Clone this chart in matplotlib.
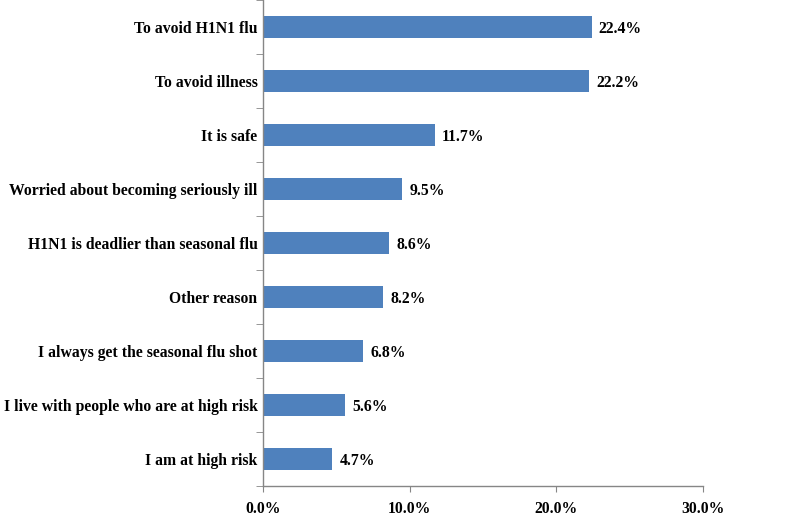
import matplotlib
matplotlib.use("Agg")
import matplotlib.pyplot as plt
import numpy as np
from matplotlib.ticker import FixedLocator, FuncFormatter

categories = [
    "To avoid H1N1 flu",
    "To avoid illness",
    "It is safe",
    "Worried about becoming seriously ill",
    "H1N1 is deadlier than seasonal flu",
    "Other reason",
    "I always get the seasonal flu shot",
    "I live with people who are at high risk",
    "I am at high risk",
]
values = [22.4, 22.2, 11.7, 9.5, 8.6, 8.2, 6.8, 5.6, 4.7]
xticks = [0, 10, 20, 30]

plt.rcParams['font.family'] = ['Liberation Serif', 'DejaVu Serif']
plt.rcParams['font.weight'] = 'bold'
FS = 11.3

fig = plt.figure(figsize=(8, 5.16), dpi=100)
ax = fig.add_axes([263/800, 30/516, 440/800, 486/516])

n = len(categories)
ypos = np.arange(n)[::-1]
ax.barh(ypos, values, height=0.4, color='#4F81BD', zorder=2)
for y, v in zip(ypos, values):
    ax.text(v + 0.5, y - 0.03, f"{v:.1f}%", va='center', ha='left', fontsize=FS,
            fontweight='bold')

ax.set_xlim(0, 30)
ax.set_ylim(-0.5, n - 0.5)
ax.set_xticks(xticks)
ax.xaxis.set_major_formatter(FuncFormatter(lambda x, p: f"{x:.1f}%"))
ax.set_yticks(ypos)
ax.set_yticklabels(categories)
ax.yaxis.set_minor_locator(FixedLocator(np.arange(n + 1) - 0.5))

for lab in ax.get_xticklabels() + ax.get_yticklabels():
    lab.set_fontweight('bold')
    lab.set_fontsize(FS)

ax.tick_params(axis='y', which='major', length=0, pad=4)
ax.tick_params(axis='y', which='minor', length=5, color='#868686', direction='out')
ax.tick_params(axis='x', which='major', length=4, color='#868686', direction='out', pad=7)

for s in ['top', 'right']:
    ax.spines[s].set_visible(False)
for s in ['left', 'bottom']:
    ax.spines[s].set_color('#868686')
    ax.spines[s].set_linewidth(1)

fig.savefig("out.png", dpi=100)
